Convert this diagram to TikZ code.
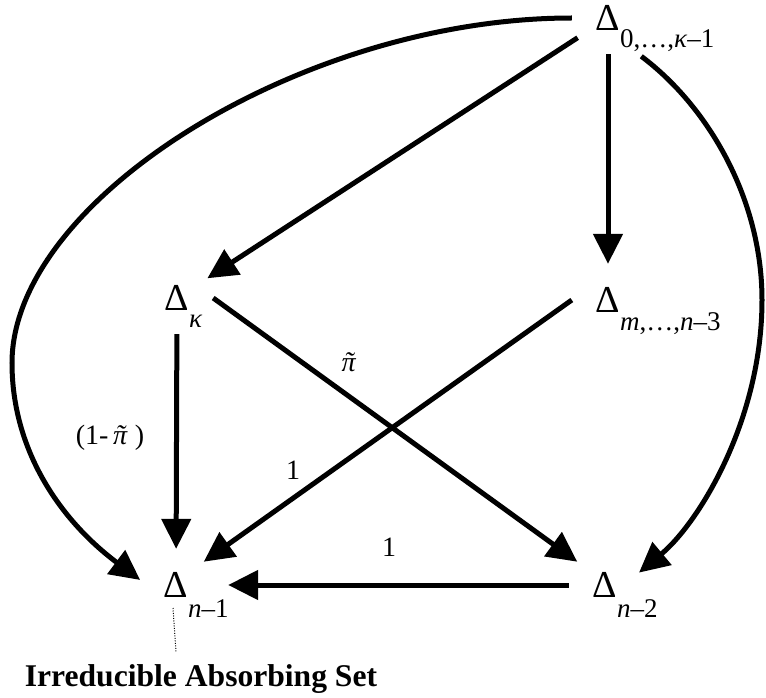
\documentclass[tikz,border=0pt]{standalone}
\usepackage{amsmath}
\usepackage{fontspec}
\setmainfont{Liberation Serif}
\usetikzlibrary{calc}
\usetikzlibrary{arrows.meta}
\usetikzlibrary{positioning}

\newcommand{\pitil}{\textit{\accent"02DC π}}

\tikzset{
  state/.style={circle,inner sep=0pt,minimum size=72pt,font=\fontsize{38}{38}\selectfont},
  subs/.style={inner sep=0pt,anchor=base west,font=\fontsize{27}{27}\selectfont},
  prob/.style={inner sep=0pt,font=\fontsize{28}{28}\selectfont},
  arr/.style={line width=5pt,-{Triangle[length=30pt,width=29pt]}},
  leader/.style={line width=1pt,dash pattern=on 1pt off 1.5pt}
}

\begin{document}
\begin{tikzpicture}[x=1pt,y=-1pt]
  \useasboundingbox (0,0) rectangle (766,698);

  % states
  \node[state] (d0) at (608,18) {Δ};
  \node[state] (dk) at (177,298) {Δ};
  \node[state] (dm) at (608,300) {Δ};
  \node[state] (dn1) at (176,585) {Δ};
  \node[state] (dn2) at (605,585) {Δ};

  \node[subs] (s0) at ($(d0.center)+(12,30)$) {0,…,\textit{κ}–1};
  \node[subs] (sk) at ($(dk.center)+(12,29)$) {\textit{κ}};
  \node[subs] (sm) at ($(dm.center)+(12,30)$) {\textit{m},…,\textit{n}–3};
  \node[subs] (sn1) at ($(dn1.center)+(12,32)$) {\textit{n}–1};
  \node[subs] (sn2) at ($(dn2.center)+(12,32)$) {\textit{n}–2};

  % transitions
  \draw[arr] (d0.west) .. controls +(-270,0) and (12,200) .. (12,363)
    .. controls (12,450) and (60,520) .. (dn1.172);
  \draw[arr] (d0) -- (dk);
  \draw[arr] (d0) -- (dm);
  \draw[arr,shorten <=15pt] (d0.-54) .. controls +(80,60) and (762,200) .. (762,300)
    .. controls (762,420) and +(60,-50) .. (dn2.20);
  \draw[arr] (dk) -- (dn1);
  \draw[arr] (dk.0) -- (dn2.140);
  \draw[arr] (dm.180) -- (dn1.40);
  \draw[arr,shorten >=16pt] (dn2.west) -- (dn1.east);

  % probabilities
  \node[prob] (lpi) at (349,362) {\pitil};
  \node[prob] (lnpi) at (110,438) {(1-\,\pitil\ )};
  \node[prob] (lone) at (293,470) {1};
  \node[prob] (ltwo) at (389,547) {1};

  % absorbing set
  \node[inner sep=0pt,anchor=base,font=\bfseries\fontsize{31.6}{32}\selectfont] (ias) at (201,686) {Irreducible Absorbing Set};
  \draw[leader] ([yshift=-23pt,xshift=-3pt]dn1.center) -- ([yshift=12pt]ias.north -| dn1.center);
\end{tikzpicture}
\end{document}
